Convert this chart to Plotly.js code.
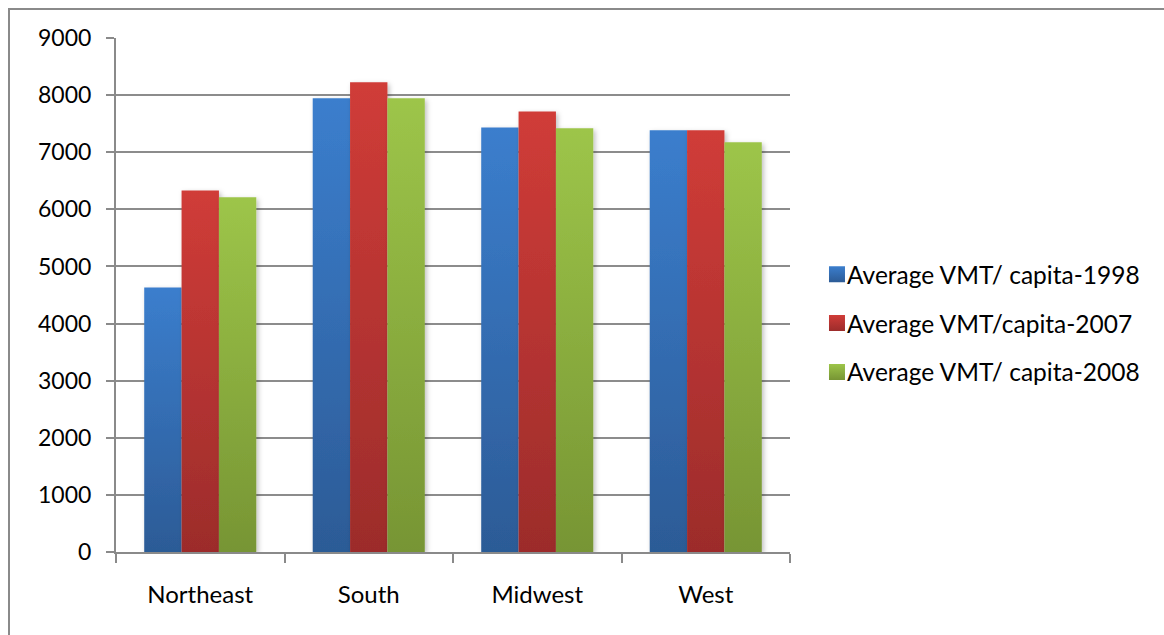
<!DOCTYPE html>
<html>
<head>
<meta charset="utf-8">
<script src="https://cdn.plot.ly/plotly-3.0.1.min.js"></script>
<style>
  html, body { margin: 0; padding: 0; background: #ffffff; }
  #wrap { position: relative; width: 1164px; height: 635px; overflow: hidden; }
  #frame { position: absolute; left: 8px; top: 8px; width: 1200px; height: 700px;
           border-left: 2px solid #8a8a8a; border-top: 2px solid #8a8a8a; box-sizing: border-box; }
  #chart { position: absolute; left: 0; top: 0; width: 1164px; height: 635px; }
</style>
</head>
<body>
<div id="wrap">
  <div id="frame"></div>
  <div id="chart"></div>
</div>
<script>
const categories = ["Northeast", "South", "Midwest", "West"];
const seriesNames = ["Average VMT/ capita-1998", "Average VMT/capita-2007", "Average VMT/ capita-2008"];
const vmt1998 = [4630, 7945, 7435, 7385];
const vmt2007 = [6330, 8225, 7715, 7385];
const vmt2008 = [6210, 7945, 7420, 7175];
const seriesValues = [vmt1998, vmt2007, vmt2008];
const tickValues = [0, 1000, 2000, 3000, 4000, 5000, 6000, 7000, 8000, 9000];

const baseColors = ["#3673c0", "#c0393a", "#8bb042"];
const gradients = [
  ["#3b7ecd", "#2c5b96"],
  ["#d03c38", "#9c2c2b"],
  ["#9dc549", "#779534"]
];

const font = "Lato, 'Open Sans', 'DejaVu Sans', sans-serif";

const traces = seriesValues.map((vals, i) => ({
  type: "bar",
  x: categories,
  y: vals,
  name: seriesNames[i],
  legendgroup: "g" + i,
  marker: { color: baseColors[i], line: { width: 0 } },
  hoverinfo: "x+y+name"
}));

const layout = {
  width: 1164,
  height: 635,
  paper_bgcolor: "rgba(0,0,0,0)",
  plot_bgcolor: "rgba(0,0,0,0)",
  margin: { l: 116, r: 374, t: 38, b: 83, pad: 0 },
  barmode: "group",
  bargap: 0.335,
  bargroupgap: 0,
  font: { family: font, size: 24, color: "#000000" },
  showlegend: true,
  legend: {
    x: 1.0252, xanchor: "left",
    y: 0.445, yanchor: "middle",
    traceorder: "grouped",
    tracegroupgap: 14,
    font: { family: font, size: 24.5, color: "#000000" },
    bgcolor: "rgba(0,0,0,0)",
    itemclick: false
  },
  xaxis: {
    type: "category",
    showline: true, linecolor: "#8a8a8a", linewidth: 2,
    ticks: "outside", ticklen: 9, tickwidth: 2, tickcolor: "#8a8a8a",
    tickson: "boundaries",
    showgrid: false,
    ticklabelstandoff: 20,
    tickfont: { family: font, size: 24, color: "#000000" }
  },
  yaxis: {
    range: [0, 9000],
    tickvals: tickValues,
    ticktext: tickValues.map(String),
    showline: true, linecolor: "#8a8a8a", linewidth: 2,
    ticks: "outside", ticklen: 8, tickwidth: 2, tickcolor: "#8a8a8a",
    showgrid: true, gridcolor: "#8c8c8c", gridwidth: 2,
    zeroline: false,
    ticklabelstandoff: 10,
    tickfont: { family: font, size: 23, color: "#000000" }
  }
};

Plotly.newPlot("chart", traces, layout, { staticPlot: true, displayModeBar: false }).then(gd => {
  const svg = gd.querySelector("svg.main-svg");
  const ns = "http://www.w3.org/2000/svg";
  let defs = svg.querySelector("defs");
  if (!defs) { defs = document.createElementNS(ns, "defs"); svg.insertBefore(defs, svg.firstChild); }
  gradients.forEach((g, i) => {
    const lg = document.createElementNS(ns, "linearGradient");
    lg.setAttribute("id", "barGrad" + i);
    lg.setAttribute("x1", "0"); lg.setAttribute("y1", "0");
    lg.setAttribute("x2", "0"); lg.setAttribute("y2", "1");
    const s1 = document.createElementNS(ns, "stop");
    s1.setAttribute("offset", "0"); s1.setAttribute("stop-color", g[0]);
    const s2 = document.createElementNS(ns, "stop");
    s2.setAttribute("offset", "1"); s2.setAttribute("stop-color", g[1]);
    lg.appendChild(s1); lg.appendChild(s2);
    defs.appendChild(lg);
  });
  const filt = document.createElementNS(ns, "filter");
  filt.setAttribute("id", "barShadow");
  filt.setAttribute("x", "-20%"); filt.setAttribute("y", "-5%");
  filt.setAttribute("width", "140%"); filt.setAttribute("height", "110%");
  const ds = document.createElementNS(ns, "feDropShadow");
  ds.setAttribute("dx", "2"); ds.setAttribute("dy", "2");
  ds.setAttribute("stdDeviation", "2.5");
  ds.setAttribute("flood-color", "#000000"); ds.setAttribute("flood-opacity", "0.25");
  filt.appendChild(ds);
  defs.appendChild(filt);

  const traceGroups = gd.querySelectorAll(".barlayer .trace");
  traceGroups.forEach((tg, i) => {
    tg.querySelectorAll("path").forEach(p => {
      p.style.fill = "url(#barGrad" + i + ")";
      p.setAttribute("filter", "url(#barShadow)");
    });
  });
  const legendItems = gd.querySelectorAll(".legend .traces");
  legendItems.forEach((li, i) => {
    li.querySelectorAll(".legendpoints path").forEach(p => {
      p.setAttribute("d", "M18,8H2V-8H18Z");
      p.style.fill = "url(#barGrad" + i + ")";
    });
  });
});
</script>
</body>
</html>
